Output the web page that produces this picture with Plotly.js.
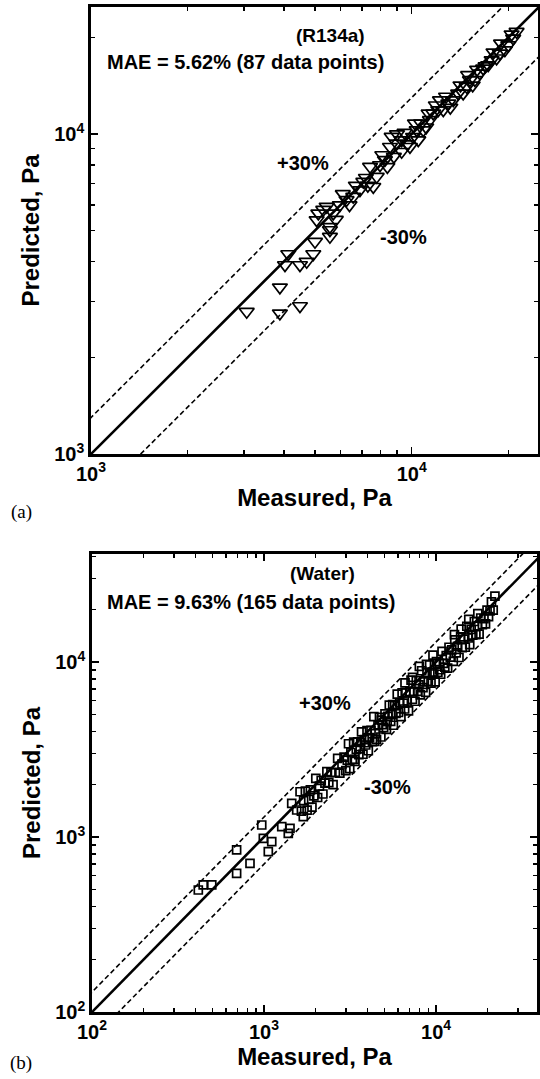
<!DOCTYPE html>
<html>
<head>
<meta charset="utf-8">
<script src="https://cdn.plot.ly/plotly-3.0.1.min.js"></script>
<style>html,body{margin:0;padding:0;background:#fff;}#chart{width:540px;height:1079px;}</style>
</head>
<body>
<div id="chart"></div>
<script>
// ---- (a) R134a : measured vs predicted (Pa) ----
const r134aMeasured = [3059,3882,4484,3882,4027,4123,4484,4706,4934,4995,5560,5560,5054,5560,5117,5695,5432,5970,6265,6573,6898,7068,7592,7418,7967,7780,8254,8664,8977,9307,8558,9307,9879,10486,10366,10869,10240,11400,11676,12106,12549,12256,13013,13483,13964,14476,14845,15200,15740,16330,16710,17320,17760,18400,18840,19530,20010,20730,21240,5300,5800,6100,6400,6700,7200,7300,8100,8400,8800,9000,9500,9700,10100,10700,11100,11300,11900,12800,13200,14200,15000,15500,16000,17000,18000,19000,20500];
const r134aPredicted = [2784,2752,2901,3319,3896,4217,3896,3990,4217,4608,4776,5012,5383,5129,5649,5649,5932,5999,6223,6371,6683,7096,6843,7907,8001,7357,8303,9808,9353,9570,9126,8804,9126,9570,10292,10292,10800,11066,11606,11885,11885,12764,12471,12764,13397,13397,14060,14760,14760,15480,16040,16430,17030,17250,17870,18300,18970,19900,20880,5800,5400,6500,6000,6900,7300,6900,8600,7900,8500,10000,10100,9300,9800,10800,10500,11600,12300,13100,12100,14200,15300,14200,15900,16300,18000,19200,20500];

// ---- (b) Water : measured vs predicted (Pa) ----
const waterMeasured = [415,497,443,693,693,829,970,991,1109,1059,1268,1416,1384,1449,1549,1692,
1620,1650,1700,1740,1780,1820,1860,1900,1950,2000,2050,2100,2150,2200,2260,2320,2380,2450,2520,2600,2680,2760,2840,2920,2990,
3050,3100,3150,3200,3260,3320,3380,3440,3500,3560,3620,3690,3760,3830,3900,3970,4040,4110,4190,4270,4350,4430,4510,4600,4690,4780,4870,4960,5050,5150,5250,5350,5450,5550,5650,5750,5850,5950,3350,3650,4000,4400,4800,5200,5600,
6050,6150,6250,6350,6460,6570,6680,6800,6920,7040,7160,7290,7420,7550,7680,7820,7960,8100,8250,8400,8550,8700,8860,9020,9180,9350,9520,9700,9880,10060,10250,10440,10640,10840,11040,11250,11460,11680,11900,6600,7300,8000,8800,9600,10500,
12100,12350,12600,12850,13100,13350,13600,13900,14200,14500,14800,15100,15400,15700,16000,16350,16700,17050,17400,17800,18200,18600,19000,19400,19800,20200,20600,21000,21500,22000,12800,14000,15500,17500];
const waterPredicted = [498,532,532,843,620,707,1171,983,940,824,1146,1121,1050,1558,1426,1306,
1814,1403,1615,1827,1424,1638,1860,1482,1716,2160,1681,1953,2107,1760,2034,2366,2047,2328,1991,2340,2814,2318,2613,2862,2392,
2745,3410,2457,3040,2771,3486,2704,3165,3500,2955,3186,3985,2970,3600,3354,4049,3111,3699,4064,3501,4872,3898,3608,4370,4831,3728,4383,4216,5050,4120,4883,5671,4578,4995,4351,5635,5090,6545,2781,3468,3680,3520,4656,4576,5712,
5143,5843,4875,6668,5814,5387,6680,5984,5259,6758,7876,6124,6752,5965,7834,6803,7403,6480,8910,7140,7695,6699,8683,7757,9639,7574,8758,8536,7706,10060,8713,9814,8512,11490,9826,9338,10887,9227,12138,7590,8176,9440,9680,10944,9030,
10648,11733,10080,13364,11266,12282,10608,13900,12070,13485,12136,16006,13706,12560,15360,14225,17034,14322,16008,14418,17836,16368,17670,16490,19800,18180,19570,22050,19780,23760,14336,15400,17515,18900];

// reference lines: perfect agreement and +/-30 %
const refX = [10, 100000];
const refFactors = {equal: 1.0, plus30: 1.3, minus30: 0.7};

const tickVals1 = [1e3, 1e4];
const tickText1 = ['<b>10<sup>3</sup></b>', '<b>10<sup>4</sup></b>'];
const minorVals1 = [2e3,3e3,4e3,5e3,6e3,7e3,8e3,9e3,2e4];
const tickVals2 = [1e2, 1e3, 1e4];
const tickText2 = ['<b>10<sup>2</sup></b>', '<b>10<sup>3</sup></b>', '<b>10<sup>4</sup></b>'];
const minorVals2 = [2e2,3e2,4e2,5e2,6e2,7e2,8e2,9e2,2e3,3e3,4e3,5e3,6e3,7e3,8e3,9e3,2e4,3e4,4e4];

const W = 540, H = 1079;
const FONT = 'Liberation Sans, Arial, Helvetica, sans-serif';

function refTraces(xa, ya) {
  const out = [];
  for (const [k, f] of Object.entries(refFactors)) {
    out.push({
      x: refX, y: refX.map(v => v * f), xaxis: xa, yaxis: ya,
      mode: 'lines', hoverinfo: 'skip',
      line: {color: 'black', width: k === 'equal' ? 2.6 : 1.6, dash: k === 'equal' ? 'solid' : '5px,3px'}
    });
  }
  return out;
}

const data = [
  ...refTraces('x', 'y'),
  {x: r134aMeasured, y: r134aPredicted, xaxis: 'x', yaxis: 'y', mode: 'markers', name: 'R134a',
   marker: {symbol: 'triangle-down-open', size: 13, color: 'black', line: {width: 1.7, color: 'black'}}},
  ...refTraces('x2', 'y2'),
  {x: waterMeasured, y: waterPredicted, xaxis: 'x2', yaxis: 'y2', mode: 'markers', name: 'Water',
   marker: {symbol: 'square-open', size: 8, color: 'black', line: {width: 1.7, color: 'black'}}}
];

function axisBase(tv, tt, mv) {
  return {
    type: 'log', showgrid: false, zeroline: false,
    showline: true, linewidth: 2.8, linecolor: 'black', mirror: 'ticks',
    ticks: 'inside', ticklen: 7, tickwidth: 1.5, tickcolor: 'black',
    tickmode: 'array', tickvals: tv, ticktext: tt,
    tickfont: {family: FONT, size: 20, color: 'black'},
    minor: {tickmode: 'array', tickvals: mv, ticks: 'inside', ticklen: 4, tickwidth: 1.3, tickcolor: 'black', showgrid: false},
    fixedrange: true
  };
}

const titleFont = {family: FONT, size: 24, color: 'black', weight: 'bold'};

const layout = {
  width: W, height: H,
  margin: {l: 0, r: 0, t: 0, b: 0},
  paper_bgcolor: 'white', plot_bgcolor: 'white',
  showlegend: false,
  font: {family: FONT, color: 'black'},
  xaxis: Object.assign(axisBase(tickVals1, tickText1, minorVals1), {
    range: [3, 4.394], domain: [91 / W, 538 / W], anchor: 'y',
    title: {text: 'Measured, Pa', font: titleFont, standoff: 6}
  }),
  yaxis: Object.assign(axisBase(tickVals1, tickText1, minorVals1), {
    range: [3, 4.397], domain: [1 - 454 / H, 1 - 7 / H], anchor: 'x',
    title: {text: 'Predicted, Pa', font: titleFont, standoff: 8}
  }),
  xaxis2: Object.assign(axisBase(tickVals2, tickText2, minorVals2), {
    range: [2, 4.587], domain: [92 / W, 537 / W], anchor: 'y2',
    title: {text: 'Measured, Pa', font: titleFont, standoff: 6}
  }),
  yaxis2: Object.assign(axisBase(tickVals2, tickText2, minorVals2), {
    range: [2, 4.617], domain: [1 - 1012 / H, 1 - 554 / H], anchor: 'x2',
    title: {text: 'Predicted, Pa', font: titleFont, standoff: 8}
  }),
  annotations: [
    {text: '<b>(R134a)</b>', x: 330 / W, y: 1 - 35 / H, font: {family: FONT, size: 19}},
    {text: '<b>MAE = 5.62% (87 data points)</b>', x: 105 / W, y: 1 - 62 / H, xanchor: 'left', font: {family: FONT, size: 20}},
    {text: '<b>+30%</b>', x: 303 / W, y: 1 - 163 / H, font: {family: FONT, size: 20}},
    {text: '<b>-30%</b>', x: 403 / W, y: 1 - 237 / H, font: {family: FONT, size: 20}},
    {text: '(a)', x: 21 / W, y: 1 - 512 / H, font: {family: 'Liberation Serif, Times New Roman, serif', size: 19}},
    {text: '<b>(Water)</b>', x: 322 / W, y: 1 - 573 / H, font: {family: FONT, size: 19}},
    {text: '<b>MAE = 9.63% (165 data points)</b>', x: 105 / W, y: 1 - 602 / H, xanchor: 'left', font: {family: FONT, size: 20}},
    {text: '<b>+30%</b>', x: 325 / W, y: 1 - 703 / H, font: {family: FONT, size: 20}},
    {text: '<b>-30%</b>', x: 387 / W, y: 1 - 787 / H, font: {family: FONT, size: 20}},
    {text: '(b)', x: 21 / W, y: 1 - 1063 / H, font: {family: 'Liberation Serif, Times New Roman, serif', size: 19}}
  ].map(a => Object.assign({xref: 'paper', yref: 'paper', showarrow: false, xanchor: 'center', yanchor: 'middle'}, a))
};

Plotly.newPlot('chart', data, layout, {staticPlot: true, displayModeBar: false});
</script>
</body>
</html>
